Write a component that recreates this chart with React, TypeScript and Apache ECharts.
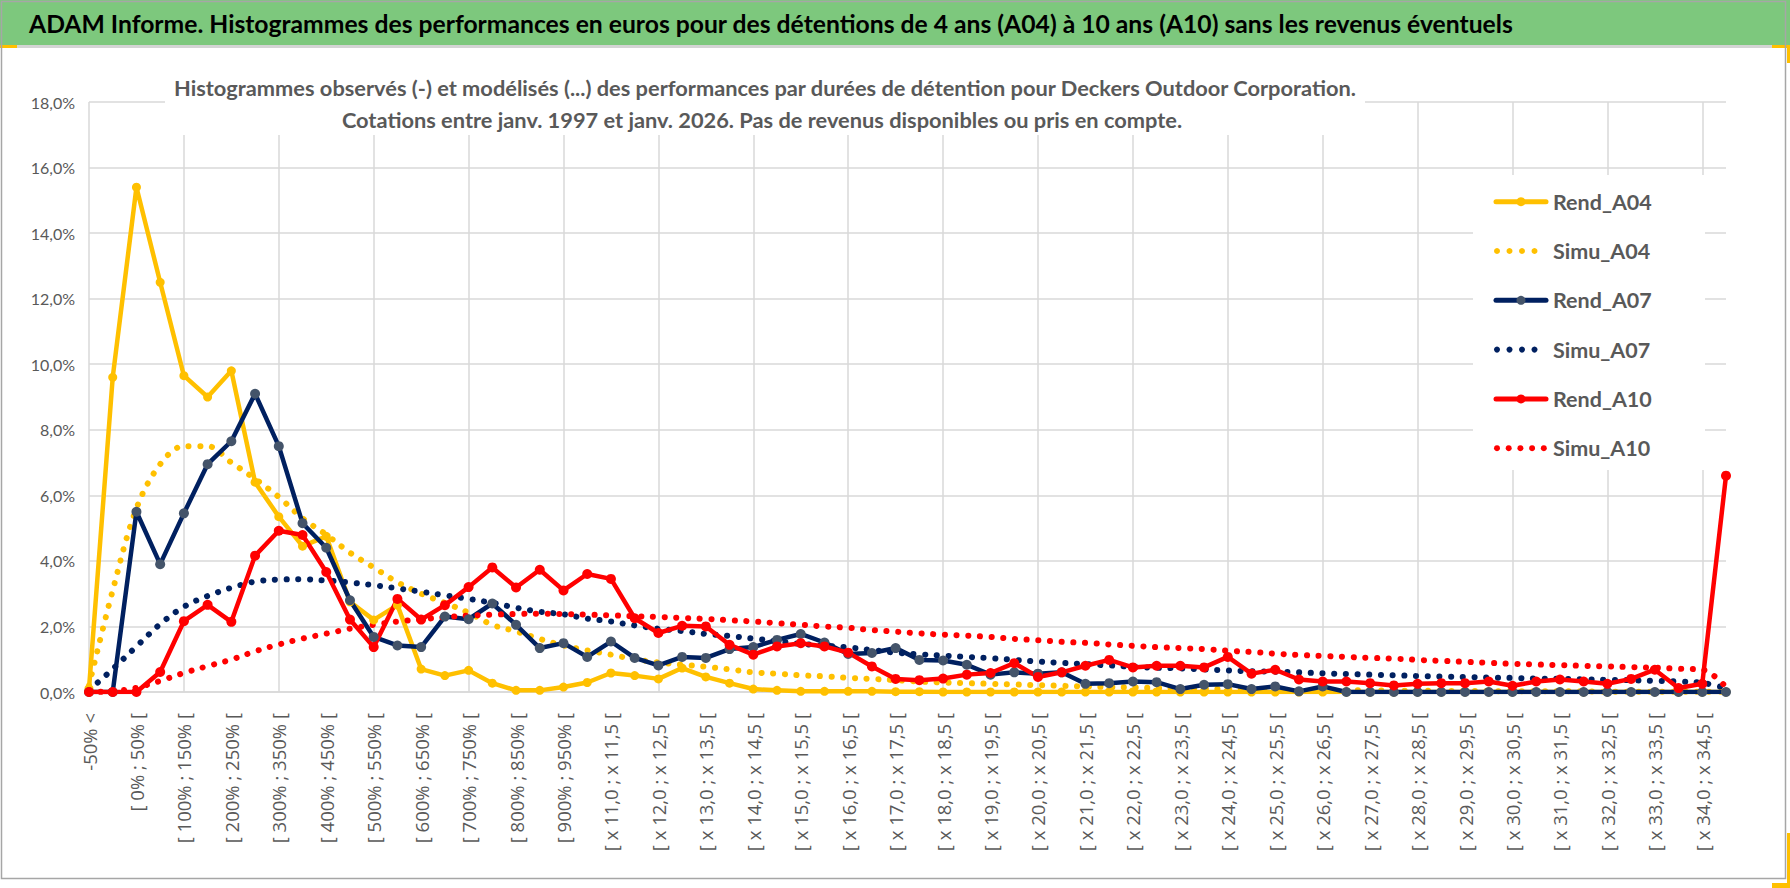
import React, { useEffect, useRef } from "react";
import * as echarts from "echarts";

const categories = [
  "-50% <", "[ -50% ; 0% [", "[ 0% ; 50% [", "[ 50% ; 100% [", "[ 100% ; 150% [", "[ 150% ; 200% [",
  "[ 200% ; 250% [", "[ 250% ; 300% [", "[ 300% ; 350% [", "[ 350% ; 400% [", "[ 400% ; 450% [",
  "[ 450% ; 500% [", "[ 500% ; 550% [", "[ 550% ; 600% [", "[ 600% ; 650% [", "[ 650% ; 700% [",
  "[ 700% ; 750% [", "[ 750% ; 800% [", "[ 800% ; 850% [", "[ 850% ; 900% [", "[ 900% ; 950% [",
  "[ 950% ; 1000% [", "[ x 11,0 ; x 11,5 [", "[ x 11,5 ; x 12,0 [", "[ x 12,0 ; x 12,5 [",
  "[ x 12,5 ; x 13,0 [", "[ x 13,0 ; x 13,5 [", "[ x 13,5 ; x 14,0 [", "[ x 14,0 ; x 14,5 [",
  "[ x 14,5 ; x 15,0 [", "[ x 15,0 ; x 15,5 [", "[ x 15,5 ; x 16,0 [", "[ x 16,0 ; x 16,5 [",
  "[ x 16,5 ; x 17,0 [", "[ x 17,0 ; x 17,5 [", "[ x 17,5 ; x 18,0 [", "[ x 18,0 ; x 18,5 [",
  "[ x 18,5 ; x 19,0 [", "[ x 19,0 ; x 19,5 [", "[ x 19,5 ; x 20,0 [", "[ x 20,0 ; x 20,5 [",
  "[ x 20,5 ; x 21,0 [", "[ x 21,0 ; x 21,5 [", "[ x 21,5 ; x 22,0 [", "[ x 22,0 ; x 22,5 [",
  "[ x 22,5 ; x 23,0 [", "[ x 23,0 ; x 23,5 [", "[ x 23,5 ; x 24,0 [", "[ x 24,0 ; x 24,5 [",
  "[ x 24,5 ; x 25,0 [", "[ x 25,0 ; x 25,5 [", "[ x 25,5 ; x 26,0 [", "[ x 26,0 ; x 26,5 [",
  "[ x 26,5 ; x 27,0 [", "[ x 27,0 ; x 27,5 [", "[ x 27,5 ; x 28,0 [", "[ x 28,0 ; x 28,5 [",
  "[ x 28,5 ; x 29,0 [", "[ x 29,0 ; x 29,5 [", "[ x 29,5 ; x 30,0 [", "[ x 30,0 ; x 30,5 [",
  "[ x 30,5 ; x 31,0 [", "[ x 31,0 ; x 31,5 [", "[ x 31,5 ; x 32,0 [", "[ x 32,0 ; x 32,5 [",
  "[ x 32,5 ; x 33,0 [", "[ x 33,0 ; x 33,5 [", "[ x 33,5 ; x 34,0 [", "[ x 34,0 ; x 34,5 [",
  "> x 34,5",
];

// values in percent
const rendA04 = [
  0.1, 9.6, 15.4, 12.5, 9.65, 9.0, 9.8, 6.4, 5.35, 4.45,
  4.75, 2.75, 2.2, 2.65, 0.7, 0.5, 0.66, 0.27, 0.05, 0.05,
  0.15, 0.29, 0.58, 0.5, 0.4, 0.73, 0.46, 0.27, 0.09, 0.05,
  0.02, 0.02, 0.02, 0.02, 0.01, 0.01, 0, 0, 0, 0,
  0, 0, 0, 0, 0, 0, 0, 0, 0, 0,
  0, 0, 0, 0, 0, 0, 0, 0, 0, 0,
  0, 0, 0, 0, 0, 0, 0, 0, 0, 0,
];
const simuA04 = [
  0.2, 3.1, 5.6, 6.95, 7.5, 7.5, 7.0, 6.5, 5.95, 5.3,
  4.8, 4.25, 3.8, 3.35, 3.0, 2.72, 2.42, 2.05, 1.85, 1.62,
  1.42, 1.27, 1.14, 1.0, 0.9, 0.83, 0.77, 0.69, 0.6, 0.56,
  0.51, 0.48, 0.43, 0.4, 0.36, 0.32, 0.29, 0.27, 0.25, 0.23,
  0.21, 0.19, 0.17, 0.15, 0.14, 0.12, 0.11, 0.1, 0.09, 0.08,
  0.07, 0.06, 0.06, 0.05, 0.05, 0.04, 0.04, 0.03, 0.03, 0.03,
  0.02, 0.02, 0.02, 0.02, 0.01, 0.01, 0.01, 0.01, 0.01, 0.01,
];
const rendA07 = [
  0, 0, 5.5, 3.9, 5.45, 6.95, 7.65, 9.1, 7.5, 5.15,
  4.4, 2.8, 1.68, 1.42, 1.37, 2.3, 2.22, 2.7, 2.05, 1.34,
  1.49, 1.07, 1.54, 1.04, 0.81, 1.07, 1.04, 1.31, 1.37, 1.59,
  1.77, 1.51, 1.16, 1.19, 1.34, 0.98, 0.96, 0.83, 0.53, 0.6,
  0.56, 0.6, 0.25, 0.27, 0.32, 0.3, 0.09, 0.22, 0.24, 0.09,
  0.17, 0.02, 0.17, 0, 0, 0, 0, 0, 0, 0,
  0, 0, 0, 0, 0, 0, 0, 0, 0, 0,
];
const simuA07 = [
  0.05, 0.7, 1.39, 2.07, 2.6, 2.93, 3.18, 3.37, 3.43, 3.44,
  3.4, 3.34, 3.26, 3.16, 3.06, 2.95, 2.84, 2.72, 2.57, 2.45,
  2.37, 2.24, 2.15, 2.03, 1.93, 1.86, 1.77, 1.71, 1.63, 1.55,
  1.47, 1.41, 1.36, 1.28, 1.2, 1.15, 1.11, 1.07, 1.03, 0.98,
  0.93, 0.89, 0.85, 0.81, 0.77, 0.74, 0.72, 0.69, 0.66, 0.63,
  0.62, 0.6, 0.57, 0.55, 0.53, 0.51, 0.49, 0.47, 0.46, 0.44,
  0.43, 0.41, 0.4, 0.39, 0.37, 0.36, 0.34, 0.32, 0.28, 0.12,
];
const rendA10 = [
  0, 0, 0, 0.61, 2.16, 2.66, 2.14, 4.16, 4.92, 4.79,
  3.66, 2.21, 1.37, 2.84, 2.21, 2.65, 3.2, 3.8, 3.19, 3.73,
  3.1, 3.6, 3.45, 2.25, 1.8, 2.02, 2.0, 1.44, 1.14, 1.39,
  1.49, 1.39, 1.2, 0.78, 0.4, 0.36, 0.41, 0.53, 0.58, 0.88,
  0.46, 0.6, 0.8, 0.98, 0.75, 0.8, 0.8, 0.75, 1.07, 0.56,
  0.68, 0.38, 0.32, 0.32, 0.27, 0.2, 0.25, 0.27, 0.27, 0.32,
  0.19, 0.32, 0.38, 0.32, 0.25, 0.4, 0.68, 0.12, 0.25, 6.6,
];
const simuA10 = [
  0, 0.02, 0.13, 0.34, 0.58, 0.79, 0.99, 1.24, 1.45, 1.63,
  1.78, 1.93, 2.05, 2.15, 2.22, 2.28, 2.33, 2.36, 2.38, 2.39,
  2.38, 2.36, 2.34, 2.31, 2.29, 2.26, 2.23, 2.19, 2.15, 2.1,
  2.05, 2.0, 1.96, 1.89, 1.84, 1.79, 1.75, 1.72, 1.68, 1.62,
  1.58, 1.53, 1.5, 1.45, 1.41, 1.37, 1.34, 1.31, 1.26, 1.22,
  1.17, 1.13, 1.1, 1.07, 1.04, 1.02, 0.98, 0.95, 0.92, 0.89,
  0.86, 0.84, 0.82, 0.8, 0.78, 0.76, 0.74, 0.71, 0.68, 0.15,
];

const mainTitle =
  "ADAM Informe. Histogrammes des performances en euros pour des détentions de 4 ans (A04) à 10 ans (A10) sans les revenus éventuels";
const subTitle1 =
  "Histogrammes observés (-) et modélisés (...) des performances par durées de détention pour Deckers Outdoor Corporation.";
const subTitle2 =
  "Cotations entre janv. 1997 et janv. 2026. Pas de revenus disponibles ou pris en compte.";

const FONT = "Lato, 'Open Sans', sans-serif";
const AXIS_FONT = "'Open Sans', Lato, sans-serif";
const GOLD = "#FFC000";
const NAVY = "#002060";
const RED = "#FF0000";

// legend entries: name, line colour, marker colour (null = dotted), number of dots
const legendNames = ["Rend_A04", "Simu_A04", "Rend_A07", "Simu_A07", "Rend_A10", "Simu_A10"];
const legendLineColors = [GOLD, GOLD, NAVY, NAVY, RED, RED];
const legendMarkerColors = [GOLD, null, "#44546A", null, RED, null];
const legendDotCounts = [0, 4, 0, 4, 0, 5];

function buildLegend(): any[] {
  const els: any[] = [];
  const left = 1494;
  const w = 54;
  const top = 201.7;
  const step = 49.3;
  els.push({
    type: "rect",
    z: 5,
    shape: { x: 1473, y: 175, width: 232, height: 295 },
    style: { fill: "#ffffff" },
  });
  legendNames.forEach((name, i) => {
    const cy = top + i * step;
    const col = legendLineColors[i];
    const mk = legendMarkerColors[i];
    if (mk) {
      els.push({
        type: "line",
        z: 6,
        shape: { x1: left + 2, y1: cy, x2: left + w - 2, y2: cy },
        style: { stroke: col, lineWidth: 5, lineCap: "round" },
      });
      els.push({
        type: "circle",
        z: 7,
        shape: { cx: left + w / 2, cy, r: 4.5 },
        style: { fill: mk },
      });
    } else {
      const n = legendDotCounts[i];
      const gap = n === 5 ? 11.7 : 12.5;
      for (let k = 0; k < n; k++) {
        els.push({
          type: "circle",
          z: 6,
          shape: { cx: left + 3 + k * gap, cy, r: 3 },
          style: { fill: col },
        });
      }
    }
    els.push({
      type: "text",
      z: 7,
      x: left + w + 5,
      y: cy,
      style: {
        text: name,
        fontFamily: FONT,
        fontSize: 21.5,
        fontWeight: "bold",
        fill: "#595959",
        align: "left",
        verticalAlign: "middle",
      },
    });
  });
  return els;
}

export default function App() {
  const ref = useRef<HTMLDivElement>(null);

  useEffect(() => {
    if (!ref.current) return;
    const chart = echarts.init(ref.current, null, { renderer: "svg" });

    const solid = (name: string, data: number[], lineColor: string, markerColor: string, size: number) => ({
      name,
      type: "line",
      data,
      color: lineColor,
      symbol: "circle",
      symbolSize: size,
      showSymbol: true,
      lineStyle: { color: lineColor, width: 4.5, join: "round" },
      itemStyle: { color: markerColor, borderWidth: 0 },
      emphasis: { disabled: true },
    });
    const dotted = (name: string, data: number[], color: string) => ({
      name,
      type: "line",
      data,
      color,
      smooth: 0.35,
      symbol: "none",
      lineStyle: { color, width: 6, type: [0.1, 11.6], cap: "round" },
      emphasis: { disabled: true },
    });

    chart.setOption({
      animation: false,
      backgroundColor: "#ffffff",
      textStyle: { fontFamily: FONT },
      grid: { left: 89, right: 64, top: 102, bottom: 196, containLabel: false },
      xAxis: {
        type: "category",
        data: categories,
        boundaryGap: false,
        axisLine: { show: true, lineStyle: { color: "#D9D9D9", width: 1.5 } },
        axisTick: { show: false },
        axisLabel: {
          interval: 1,
          rotate: 90,
          margin: 21,
          fontFamily: AXIS_FONT,
          fontSize: 18.5,
          color: "#595959",
        },
        splitLine: { show: true, interval: 3, lineStyle: { color: "#D9D9D9", width: 1.5 } },
      },
      yAxis: {
        type: "value",
        min: 0,
        max: 18,
        interval: 2,
        axisLine: { show: false },
        axisTick: { show: false },
        axisLabel: {
          margin: 14,
          fontFamily: FONT,
          fontSize: 16,
          color: "#595959",
          formatter: (v: number) => v.toFixed(1).replace(".", ",") + "%",
        },
        splitLine: { show: true, lineStyle: { color: "#D9D9D9", width: 1.5 } },
      },
      graphic: [
        { type: "rect", z: 1, shape: { x: 0, y: 0, width: 1790, height: 45 }, style: { fill: "#7DC87D" } },
        { type: "rect", z: 1, shape: { x: 0, y: 45, width: 1790, height: 3 }, style: { fill: "#D4D4D4" } },
        { type: "rect", z: 2, shape: { x: 0, y: 45, width: 17, height: 3 }, style: { fill: GOLD } },
        { type: "rect", z: 2, shape: { x: 1772, y: 45, width: 18, height: 3 }, style: { fill: GOLD } },
        { type: "rect", z: 2, shape: { x: 1787, y: 45, width: 3, height: 18 }, style: { fill: GOLD } },
        { type: "rect", z: 2, shape: { x: 1787, y: 833, width: 3, height: 55 }, style: { fill: GOLD } },
        { type: "rect", z: 2, shape: { x: 1772, y: 883, width: 18, height: 5 }, style: { fill: GOLD } },
        {
          type: "text",
          z: 3,
          x: 29,
          y: 23,
          style: {
            text: mainTitle,
            fontFamily: FONT,
            fontSize: 24.7,
            fontWeight: "bold",
            fill: "#000000",
            align: "left",
            verticalAlign: "middle",
          },
        },
        { type: "rect", z: 1, shape: { x: 165, y: 62, width: 1200, height: 73 }, style: { fill: "#ffffff" } },
        {
          type: "text",
          z: 3,
          x: 765,
          y: 87,
          style: {
            text: subTitle1,
            fontFamily: FONT,
            fontSize: 21.8,
            fontWeight: "bold",
            fill: "#595959",
            align: "center",
            verticalAlign: "middle",
          },
        },
        {
          type: "text",
          z: 3,
          x: 762,
          y: 119,
          style: {
            text: subTitle2,
            fontFamily: FONT,
            fontSize: 21.8,
            fontWeight: "bold",
            fill: "#595959",
            align: "center",
            verticalAlign: "middle",
          },
        },
        ...buildLegend(),
        {
          type: "rect",
          z: 3,
          shape: { x: 1.5, y: 1.5, width: 1784, height: 877 },
          style: { fill: "none", stroke: "#A6A6A6", lineWidth: 1.5 },
        },
      ],
      series: [
        solid("Rend_A04", rendA04, GOLD, GOLD, 9),
        dotted("Simu_A04", simuA04, GOLD),
        solid("Rend_A07", rendA07, NAVY, "#44546A", 10),
        dotted("Simu_A07", simuA07, NAVY),
        solid("Rend_A10", rendA10, RED, RED, 10),
        dotted("Simu_A10", simuA10, RED),
      ],
    });

    return () => chart.dispose();
  }, []);

  return (
    <div
      ref={ref}
      style={{ position: "fixed", left: 0, top: 0, width: 1790, height: 888, background: "#ffffff" }}
    />
  );
}
